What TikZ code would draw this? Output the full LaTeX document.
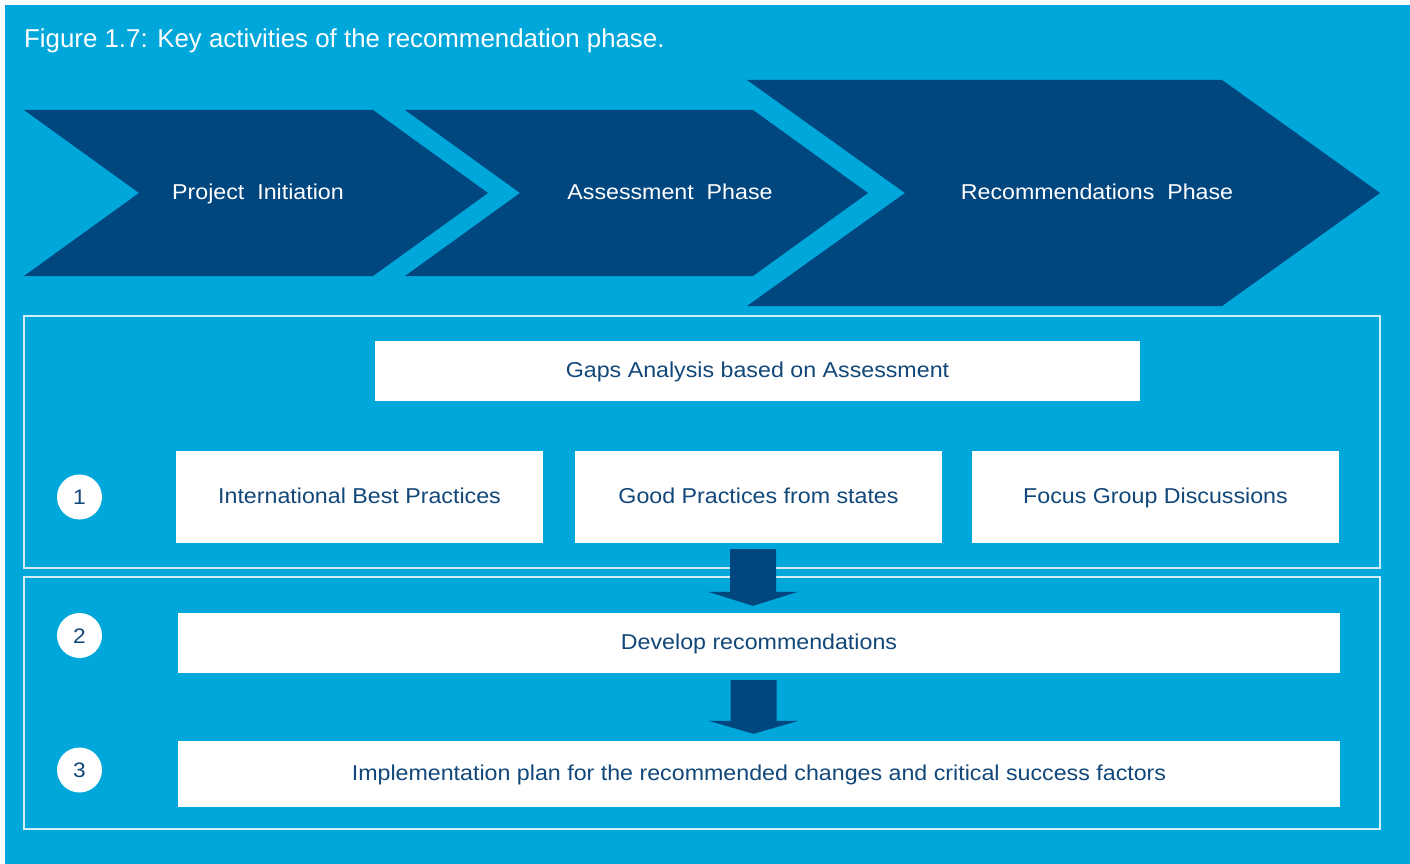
\documentclass[tikz,border=0pt]{standalone}
\usepackage{fontspec}
\setmainfont{Liberation Sans}
\newfontfamily\boxfont[FakeStretch=1.08]{Liberation Sans}
\usetikzlibrary{calc}
\definecolor{bgblue}{HTML}{00A7DB}
\definecolor{navy}{HTML}{00467F}
\definecolor{txtblue}{HTML}{12477A}
\definecolor{panelline}{HTML}{D3EEF7}
\begin{document}
\begin{tikzpicture}[x=1pt,y=-1pt,
  boxtext/.style={font=\boxfont\fontsize{21.5}{26}\selectfont, text height=15.4pt, text depth=3pt},
  whitebox/.style={boxtext, fill=white, draw=none, text=txtblue, inner sep=0pt},
  chevtext/.style={boxtext, text=white},
  num/.style={circle, fill=white, text=txtblue, minimum size=45pt, inner sep=0pt, font=\boxfont\fontsize{21}{26}\selectfont, text height=15pt, text depth=0pt},
  panel/.style={draw=panelline, line width=2pt},
  chevron/.style={fill=navy}]
\useasboundingbox (0,0) rectangle (1410,864);
\fill[white] (0,0) rectangle (1410,864);
\fill[bgblue] (5,5) rectangle (1410,864);

\node[anchor=base west, text=white, inner sep=0pt, font=\fontsize{25.85}{30}\selectfont] (title) at (24,48) {Figure 1.7: Key activities of the recommendation phase.};

% chevrons
\fill[chevron] (24,110) -- (373,110) -- (488,193) -- (373,276) -- (24,276) -- (139,193) -- cycle;
\fill[chevron] (405,110) -- (753,110) -- (868,193) -- (753,276) -- (405,276) -- (520,193) -- cycle;
\fill[chevron] (747,80) -- (1222,80) -- (1380,193) -- (1222,306) -- (747,306) -- (905,193) -- cycle;
\node[chevtext] (pi) at (258,193) {Project\ \ Initiation};
\node[chevtext] (ap) at (670,193) {Assessment\ \ Phase};
\node[chevtext] (rp) at (1097,193) {Recommendations\ \ Phase};

% panels
\draw[panel] (24,316) rectangle (1380,568);
\draw[panel] (24,577) rectangle (1380,829);

% boxes
\node[whitebox, minimum width=765pt, minimum height=60pt] (gaps) at (757.5,371) {Gaps Analysis based on Assessment};
\node[whitebox, minimum width=367pt, minimum height=92pt] (ibp) at (359.5,497) {International Best Practices};
\node[whitebox, minimum width=367pt, minimum height=92pt] (gps) at (758.5,497) {Good Practices from states};
\node[whitebox, minimum width=367pt, minimum height=92pt] (fgd) at (1155.5,497) {Focus Group Discussions};
\node[whitebox, minimum width=1162pt, minimum height=60pt] (dev) at (759,643) {Develop recommendations};
\node[whitebox, minimum width=1162pt, minimum height=66pt] (impl) at (759,774) {Implementation plan for the recommended changes and critical success factors};

% numbers
\node[num] (n1) at (79.5,497) {1};
\node[num] (n2) at (79.5,635.5) {2};
\node[num] (n3) at (79.5,770) {3};

% block arrows
\fill[navy] let \p1=($(gps.south)+(-5.5,6)$), \p2=($(dev.north)+(0,-7)$) in
  (\x1-23pt,\y1) -- (\x1+23pt,\y1) -- (\x1+23pt,\y2+14pt) -- (\x1+45pt,\y2+14pt) -- (\x1,\y2) -- (\x1-45pt,\y2+14pt) -- (\x1-23pt,\y2+14pt) -- cycle;
\fill[navy] let \p1=($(dev.south)+(-5.5,7)$), \p2=($(impl.north)+(0,-7)$) in
  (\x1-23pt,\y1) -- (\x1+23pt,\y1) -- (\x1+23pt,\y2+13pt) -- (\x1+45pt,\y2+13pt) -- (\x1,\y2) -- (\x1-45pt,\y2+13pt) -- (\x1-23pt,\y2+13pt) -- cycle;
\end{tikzpicture}
\end{document}
